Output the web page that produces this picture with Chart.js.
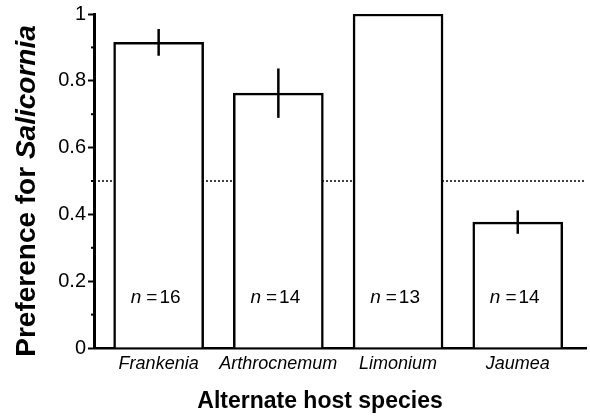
<!DOCTYPE html>
<html lang="en">
<head>
<meta charset="UTF-8">
<title>Preference for Salicornia</title>
<script src="https://cdn.jsdelivr.net/npm/chart.js"></script>
<style>
	html, body { margin: 0; padding: 0; background: #fff; }
	#wrap { width: 590px; height: 417px; }
</style>
</head>
<body>
<div id="wrap"><canvas id="barChart"></canvas></div>
<script>
// data
const hosts = ['Frankenia', 'Arthrocnemum', 'Limonium', 'Jaumea'];
const preference = [0.915, 0.763, 1.0, 0.377];
const stdErr = [0.04, 0.074, 0, 0.035];
const sampleSize = [16, 14, 13, 14];
const yTicks = [0, 0.2, 0.4, 0.6, 0.8, 1];
const minorTicks = [0.1, 0.3, 0.5, 0.7, 0.9];
const noPreference = 0.5;

const FONT = '"Liberation Sans", Arial, Helvetica, sans-serif';
const xMin = -0.54, xMax = 3.57;

// error bars, n labels, minor ticks and both axis titles
const extras = {
	id: 'extras',
	afterDatasetsDraw(chart) {
		const ctx = chart.ctx;
		const x = chart.scales.x, y = chart.scales.y;
		ctx.save();
		ctx.strokeStyle = '#000';
		ctx.lineWidth = 2.5;
		preference.forEach((v, i) => {
			if (!stdErr[i]) return;
			const px = x.getPixelForValue(i);
			ctx.beginPath();
			ctx.moveTo(px, y.getPixelForValue(v - stdErr[i]));
			ctx.lineTo(px, y.getPixelForValue(v + stdErr[i]));
			ctx.stroke();
		});

		// n = ..
		ctx.fillStyle = '#000';
		ctx.textBaseline = 'middle';
		ctx.textAlign = 'left';
		const italic = 'italic 19px ' + FONT;
		const plain = '19px ' + FONT;
		sampleSize.forEach((n, i) => {
			ctx.font = italic;
			const w1 = ctx.measureText('n').width;
			ctx.font = plain;
			const we = ctx.measureText('=').width;
			const wn = ctx.measureText(String(n)).width;
			const total = w1 + 5 + we + 2 + wn;
			const sx = x.getPixelForValue(i) - 3 - total / 2;
			const sy = y.getPixelForValue(0.151);
			ctx.font = italic;
			ctx.fillText('n', sx, sy);
			ctx.font = plain;
			ctx.fillText('=', sx + w1 + 5, sy);
			ctx.fillText(String(n), sx + w1 + 5 + we + 2, sy);
		});

		// minor ticks
		ctx.lineWidth = 2;
		minorTicks.forEach(t => {
			const py = y.getPixelForValue(t);
			ctx.beginPath();
			ctx.moveTo(x.left - 3, py);
			ctx.lineTo(x.left, py);
			ctx.stroke();
		});

		// x title
		ctx.font = 'bold 23px ' + FONT;
		ctx.textAlign = 'center';
		ctx.textBaseline = 'alphabetic';
		ctx.fillText('Alternate host species', 320, 408);

		// y title, mixed styles
		ctx.translate(35, 191);
		ctx.rotate(-Math.PI / 2);
		ctx.textAlign = 'left';
		const a = 'Preference for ', b = 'Salicornia';
		ctx.font = 'bold 28px ' + FONT;
		const wa = ctx.measureText(a).width;
		ctx.font = 'italic bold 28px ' + FONT;
		const wb = ctx.measureText(b).width;
		const start = -(wa + wb) / 2;
		ctx.font = 'bold 28px ' + FONT;
		ctx.fillText(a, start, 0);
		ctx.font = 'italic bold 28px ' + FONT;
		ctx.fillText(b, start + wa, 0);
		ctx.restore();
	}
};

new Chart(document.getElementById('barChart'), {
	type: 'bar',
	data: {
		datasets: [
			{
				type: 'bar',
				data: preference.map((v, i) => ({ x: i, y: v })),
				backgroundColor: '#fff',
				borderColor: '#000',
				borderWidth: 2.5,
				barThickness: 90,
				order: 1
			},
			{
				type: 'line',
				data: [{ x: xMin, y: noPreference }, { x: xMax, y: noPreference }],
				borderColor: '#000',
				borderWidth: 1.5,
				borderDash: [2, 2],
				pointRadius: 0,
				order: 2
			}
		]
	},
	options: {
		responsive: true,
		maintainAspectRatio: false,
		animation: false,
		events: [],
		layout: { padding: { top: 14, right: 4, left: 0, bottom: 0 } },
		plugins: { legend: { display: false }, tooltip: { enabled: false } },
		scales: {
			x: {
				type: 'linear',
				offset: false,
				min: xMin,
				max: xMax,
				afterBuildTicks: s => { s.ticks = hosts.map((h, i) => ({ value: i })); },
				afterFit: s => { s.height = 69; },
				grid: { display: false, drawTicks: false },
				border: { display: true, color: '#000', width: 2.5 },
				ticks: {
					callback: v => hosts[v],
					color: '#000',
					padding: 5,
					maxRotation: 0,
					autoSkip: false,
					font: { family: FONT, size: 18, style: 'italic' }
				}
			},
			y: {
				min: 0,
				max: 1,
				afterBuildTicks: s => { s.ticks = yTicks.map(v => ({ value: v })); },
				afterFit: s => { s.width = 94; },
				grid: { drawOnChartArea: false, drawTicks: true, tickLength: 6, tickWidth: 2, tickColor: '#000' },
				border: { display: true, color: '#000', width: 3 },
				ticks: {
					callback: v => String(v),
					color: '#000',
					padding: 2,
					font: { family: FONT, size: 20 }
				}
			}
		}
	},
	plugins: [extras]
});
</script>
</body>
</html>
